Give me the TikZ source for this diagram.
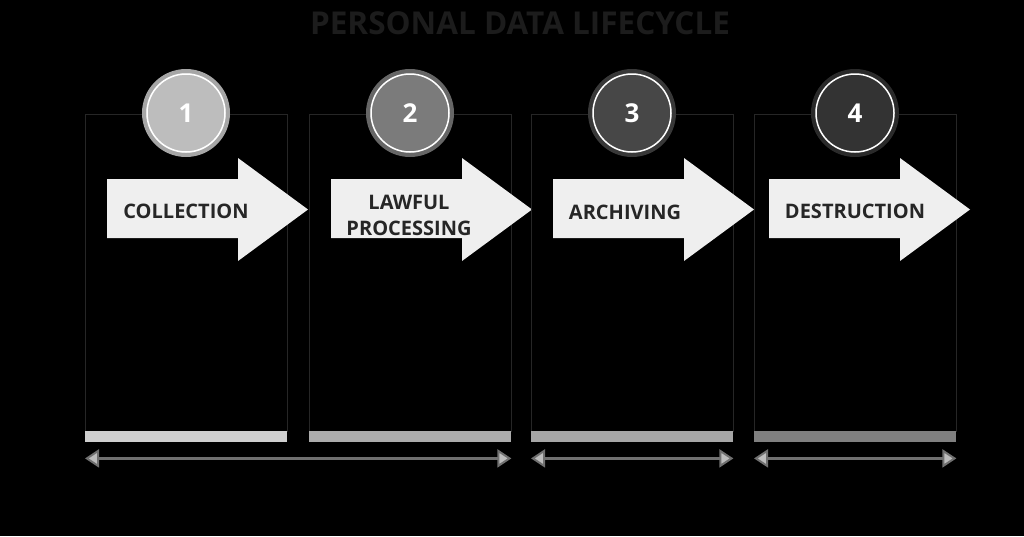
\documentclass[tikz,border=0pt]{standalone}
\usepackage{fontspec}
\setsansfont{Open Sans}
\usetikzlibrary{arrows.meta}

\definecolor{frame}{HTML}{262626}
\definecolor{titlegray}{HTML}{1C1C1C}
\definecolor{label}{HTML}{262626}
\definecolor{arrowfill}{HTML}{EFEFEF}
\definecolor{spanline}{HTML}{707070}
\definecolor{spanhead}{HTML}{BDBDBD}
\definecolor{num1}{HTML}{BDBDBD}\definecolor{ring1}{HTML}{A6A6A6}\definecolor{bar1}{HTML}{CFCFCF}
\definecolor{num2}{HTML}{7B7B7B}\definecolor{ring2}{HTML}{666666}\definecolor{bar2}{HTML}{ACACAC}
\definecolor{num3}{HTML}{474747}\definecolor{ring3}{HTML}{383838}\definecolor{bar3}{HTML}{A6A6A6}
\definecolor{num4}{HTML}{333333}\definecolor{ring4}{HTML}{2A2A2A}\definecolor{bar4}{HTML}{808080}

\begin{document}
\begin{tikzpicture}[x=1pt, y=-1pt,
  title/.style={text=titlegray, font=\sffamily\bfseries\fontsize{31.5}{31.5}\selectfont},
  panel/.style={draw=frame, line width=1pt, minimum width=202pt, minimum height=317pt, inner sep=0pt, anchor=north west},
  numdisc/.style={circle, minimum size=84pt, inner sep=0pt, line width=4pt, text=white, font=\sffamily\bfseries\fontsize{26}{26}\selectfont},
  steptext/.style={text=label, align=center, font=\sffamily\bfseries\fontsize{20}{26}\selectfont},
  barbox/.style={minimum width=202pt, minimum height=11pt, inner sep=0pt, anchor=north west},
  span/.style={draw=spanline, line width=2.5pt,
    {Triangle[length=14pt, width=18pt, fill=spanhead, line width=2pt]}-{Triangle[length=14pt, width=18pt, fill=spanhead, line width=2pt]}}
]
\useasboundingbox (0,0) rectangle (1024,536);
\fill[black] (0,0) rectangle (1024,536);

\node[title] (title) at (520,23) {PERSONAL DATA LIFECYCLE};

% one column per stage: panel, number, arrow, label, bar
\foreach \i/\px/\ax/\tx/\ty/\lbl in {1/85/107/186/211/COLLECTION, 2/309/331/409/215/{LAWFUL\\PROCESSING},
    3/531/553/625/212/ARCHIVING, 4/754/769/855/211/DESTRUCTION} {
  \node[panel] (p\i) at (\px,114) {};
  \node[numdisc, fill=num\i, draw=ring\i] (c\i) at ({\px+101},113) {\i};
  \draw[white, line width=1.5pt] (c\i.center) circle (39pt);
  \fill[arrowfill] (\ax,179) -- ({\ax+131},179) -- ({\ax+131},158) -- ({\ax+201},209.5)
    -- ({\ax+131},261) -- ({\ax+131},238) -- (\ax,238) -- cycle;
  \node[steptext] (t\i) at (\tx,\ty) {\lbl};
  \node[barbox, fill=bar\i] (b\i) at (\px,431) {};
}

\draw[span] ([yshift=-16pt]b1.south west) -- ([yshift=-16pt]b2.south east);
\draw[span] ([yshift=-16pt]b3.south west) -- ([yshift=-16pt]b3.south east);
\draw[span] ([yshift=-16pt]b4.south west) -- ([yshift=-16pt]b4.south east);
\end{tikzpicture}
\end{document}
